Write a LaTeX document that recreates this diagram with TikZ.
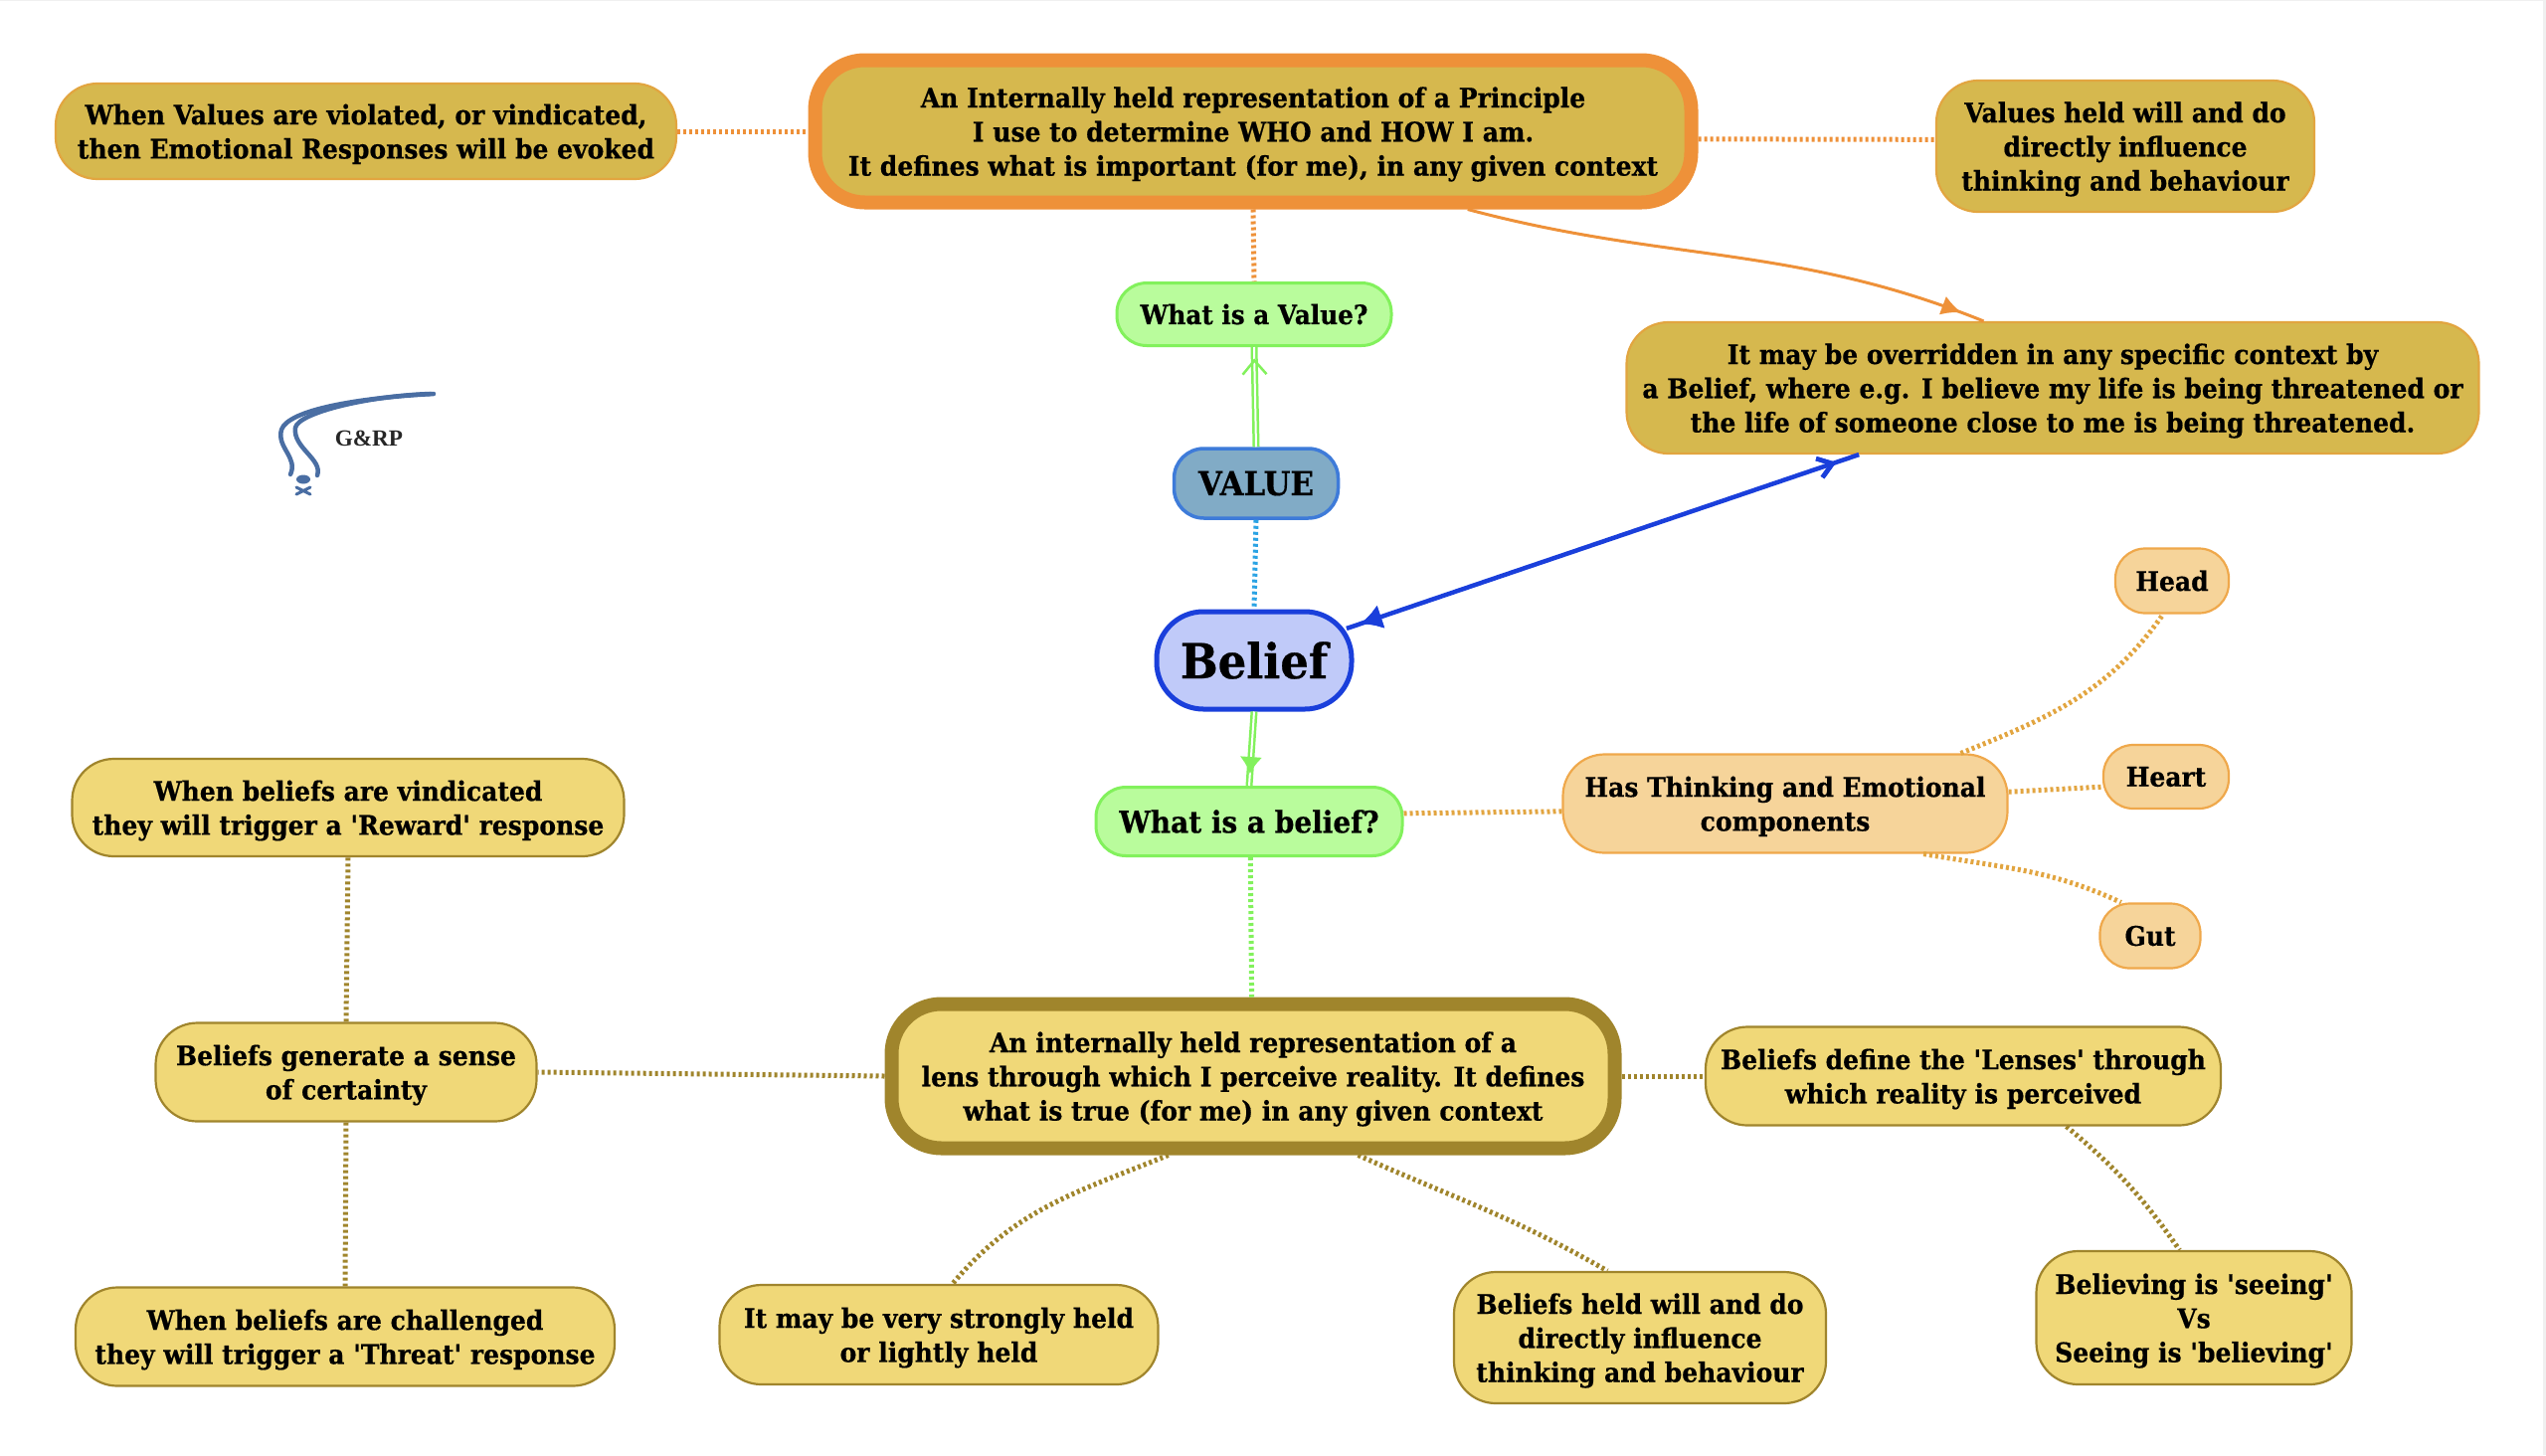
\documentclass[tikz,border=0pt]{standalone}
\usepackage{fontspec}
\setmainfont{DejaVu Serif}[FakeStretch=0.925,Ligatures=TeXOff,BoldFeatures={FakeBold=0.5}]
\newfontfamily\logofont{Liberation Serif}
\usetikzlibrary{arrows.meta,decorations.markings}

\definecolor{valuefill}{HTML}{D6B84E}
\definecolor{valueedge}{HTML}{EE9139}
\definecolor{softedge}{HTML}{E2A540}
\definecolor{greenfill}{HTML}{B9FC9C}
\definecolor{greenedge}{HTML}{82F15C}
\definecolor{keyfill}{HTML}{81ABC6}
\definecolor{keyedge}{HTML}{3E7BD9}
\definecolor{beliefill}{HTML}{C0CAF9}
\definecolor{myblue}{HTML}{1A3FDB}
\definecolor{peachfill}{HTML}{F6D49A}
\definecolor{peachedge}{HTML}{EFA84B}
\definecolor{yellowfill}{HTML}{F0D878}
\definecolor{yellowedge}{HTML}{A0852C}
\definecolor{logoblue}{HTML}{4A6EA3}

\tikzset{
  boxsize/.style 2 args={minimum width=#1 cm,minimum height=#2 cm},
  box/.style={rectangle,rounded corners=0.42cm,align=center,inner sep=0pt,line width=0.022cm,
    font=\fontsize{7.7}{9.75}\selectfont\bfseries},
  lines/.style={text depth=0pt},
  valuebox/.style={box,lines,fill=valuefill,draw=softedge},
  yellowbox/.style={box,lines,fill=yellowfill,draw=yellowedge},
  peachbox/.style={box,fill=peachfill,draw=peachedge},
  greenbox/.style={box,rounded corners=0.3cm,fill=greenfill,draw=greenedge,line width=0.03cm},
  smallbox/.style={peachbox,rounded corners=0.3cm},
  dots/.style={line width=0.05cm,dash pattern=on 0.03cm off 0.03cm},
  twin/.style={line width=0.025cm,double=white,double distance=0.02cm,greenedge},
  tipat/.style 2 args={decoration={markings,mark=at position #1 with {#2}},postaction=decorate},
}

\begin{document}
\begin{tikzpicture}
  \useasboundingbox (0,0) rectangle (25.6,-14.63);
  \fill[black!6] (25.57,0) rectangle (25.6,-14.63);
  \fill[black!6] (0,0) rectangle (25.6,-0.01);

  % VALUE SIDE
  \node[valuebox,boxsize={8.81}{1.43},draw=valueedge,line width=0.14cm,rounded corners=0.5cm] (valuedef) at (12.60,-1.32)
    {An Internally held representation of a Principle\\I use to determine WHO and HOW I am.\\It defines what is important (for me), in any given context};
  \node[valuebox,boxsize={6.24}{0.96}] (evoked) at (3.68,-1.32)
    {When Values are violated, or vindicated,\\then Emotional Responses will be evoked};
  \node[valuebox,boxsize={3.80}{1.32}] (valueinfl) at (21.37,-1.47)
    {Values held will and do\\directly influence\\thinking and behaviour};
  \node[valuebox,boxsize={8.57}{1.32}] (override) at (20.64,-3.90)
    {It may be overridden in any specific context by\\a Belief, where e.g. I believe my life is being threatened or\\the life of someone close to me is being threatened.};
  \node[greenbox,boxsize={2.76}{0.63},font=\fontsize{7.6}{10}\selectfont\bfseries] (whatvalue) at (12.61,-3.16) {What is a Value?};
  \node[box,boxsize={1.65}{0.70},rounded corners=0.3cm,fill=keyfill,draw=keyedge,line width=0.035cm,font=\fontsize{9.5}{11}\selectfont\bfseries] (value) at (12.63,-4.86) {VALUE};

  % CENTRE
  \node[box,boxsize={1.96}{0.98},fill=beliefill,draw=myblue,line width=0.05cm,rounded corners=0.47cm,font=\fontsize{13.8}{17}\selectfont\bfseries] (belief) at (12.61,-6.64) {Belief};
  \node[greenbox,boxsize={3.08}{0.69},font=\fontsize{8.6}{11}\selectfont\bfseries] (whatbelief) at (12.56,-8.26) {What is a belief?};

  % COMPONENTS
  \node[peachbox,lines,boxsize={4.47}{0.99}] (thinking) at (17.95,-8.08) {Has Thinking and Emotional\\components};
  \node[smallbox,boxsize={1.14}{0.65}] (head) at (21.84,-5.84) {Head};
  \node[smallbox,boxsize={1.26}{0.64}] (heart) at (21.78,-7.81) {Heart};
  \node[smallbox,boxsize={1.01}{0.65}] (gut) at (21.62,-9.41) {Gut};

  % BELIEF SIDE
  \node[yellowbox,boxsize={7.27}{1.45},line width=0.14cm,rounded corners=0.5cm] (beliefdef) at (12.60,-10.82)
    {An internally held representation of a\\lens through which I perceive reality. It defines\\what is true (for me) in any given context};
  \node[yellowbox,boxsize={5.55}{0.98}] (reward) at (3.50,-8.12) {When beliefs are vindicated\\they will trigger a 'Reward' response};
  \node[yellowbox,boxsize={3.83}{0.99}] (certainty) at (3.48,-10.78) {Beliefs generate a sense\\of certainty};
  \node[yellowbox,boxsize={5.42}{0.99}] (threat) at (3.47,-13.44) {When beliefs are challenged\\they will trigger a 'Threat' response};
  \node[yellowbox,boxsize={5.18}{0.99}] (lenses) at (19.74,-10.82) {Beliefs define the 'Lenses' through\\which reality is perceived};
  \node[yellowbox,boxsize={4.41}{1.00}] (strong) at (9.44,-13.42) {It may be very strongly held\\or lightly held};
  \node[yellowbox,boxsize={3.74}{1.32}] (beliefinfl) at (16.49,-13.45) {Beliefs held will and do\\directly influence\\thinking and behaviour};
  \node[yellowbox,boxsize={3.17}{1.34}] (seeing) at (22.06,-13.25) {Believing is 'seeing'\\Vs\\Seeing is 'believing'};

  % DOTTED LINKS
  \draw[dots,valueedge] (evoked.east) -- (valuedef.west);
  \draw[dots,valueedge] (valuedef.-1) -- (valueinfl.178.5);
  \draw[dots,valueedge] (valuedef.south) -- (whatvalue.north);
  \draw[dots,keyedge!70!cyan] (value.south) -- (belief.north);
  \draw[dots,greenedge] (whatbelief.-88) -- (beliefdef.91);
  \draw[dots,softedge] (whatbelief.3) -- (thinking.182);
  \draw[dots,softedge] (thinking.16) to[out=22,in=-125] (head.-105);
  \draw[dots,softedge] (thinking.3) -- (heart.189);
  \draw[dots,softedge] (thinking.-20) to[out=-10,in=155] (gut.131);
  \draw[dots,yellowedge] (beliefdef.west) -- (certainty.east);
  \draw[dots,yellowedge] (certainty.north) -- (reward.south);
  \draw[dots,yellowedge] (certainty.south) -- (threat.north);
  \draw[dots,yellowedge] (beliefdef.east) -- (lenses.west);
  \draw[dots,yellowedge] (beliefdef.-137) to[out=-158,in=50] (strong.75);
  \draw[dots,yellowedge] (beliefdef.-37) to[out=-24,in=150] (beliefinfl.116);
  \draw[dots,yellowedge] (lenses.-26) to[out=-40,in=125] (seeing.102);

  % ARROWS
  \draw[twin,tipat={0.92}{\arrow{Straight Barb[length=0.14cm,width=0.24cm]}}] (value.north) -- (whatvalue.south);
  \draw[twin,tipat={0.84}{\arrow{Latex[length=0.17cm,width=0.23cm]}}] (belief.south) -- (whatbelief.north);
  \draw[line width=0.03cm,valueedge,
    tipat={0.955}{\arrow{Latex[length=0.2cm,width=0.2cm]}}] (valuedef.-20) to[out=-15,in=158] (override.136);
  \draw[line width=0.045cm,myblue,shorten <=-0.08cm,
    tipat={0.012}{\arrowreversed{Latex[length=0.22cm,width=0.25cm]}},
    tipat={0.955}{\arrow{Straight Barb[length=0.14cm,width=0.2cm]}}] (belief.19) -- (override.199);

  % LOGO
  \node[inner sep=0pt,font=\fontsize{6.6}{8}\logofont\bfseries,text=black!85] (logotext) at (3.71,-4.41) {G\&RP};
  \draw[logoblue,line width=0.045cm,line cap=round]
    (4.36,-3.96) .. controls (3.60,-4.00) and (2.90,-4.12) .. (2.83,-4.32) .. controls (2.78,-4.50) and (3.00,-4.60) .. (2.92,-4.77);
  \draw[logoblue,line width=0.045cm,line cap=round]
    (4.33,-3.96) .. controls (3.70,-3.98) and (3.00,-4.15) .. (2.97,-4.30) .. controls (2.94,-4.50) and (3.25,-4.62) .. (3.19,-4.78);
  \fill[logoblue] (3.05,-4.82) ellipse (0.07 and 0.045);
  \draw[logoblue,line width=0.03cm,line cap=round]
    (2.98,-4.90) -- (3.12,-4.97) (3.12,-4.90) -- (2.98,-4.97);
\end{tikzpicture}
\end{document}
